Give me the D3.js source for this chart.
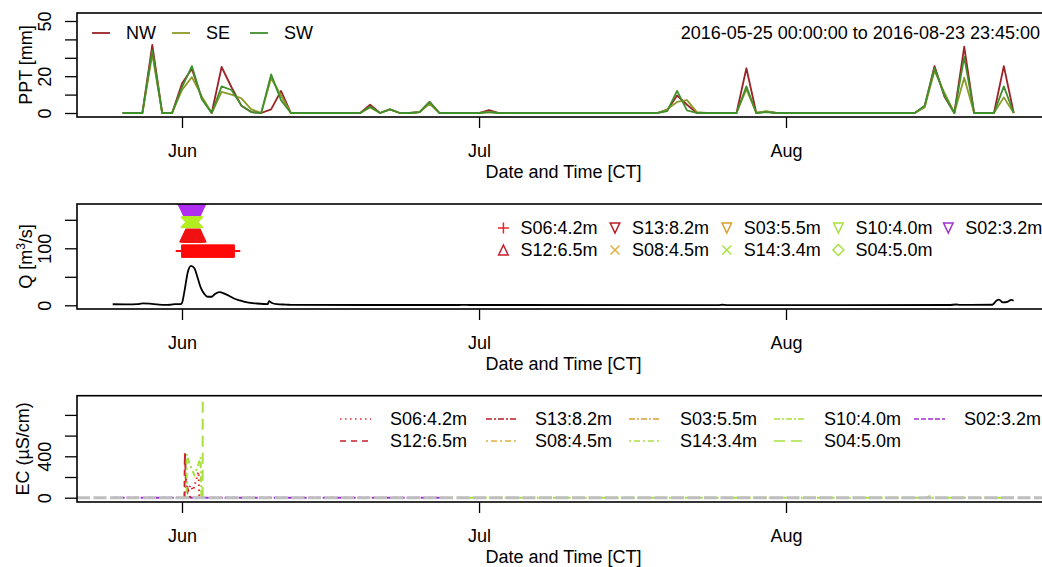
<!DOCTYPE html>
<html>
<head>
<meta charset="utf-8">
<script src="https://cdn.jsdelivr.net/npm/d3@7"></script>
<style>
  body { margin: 0; background: #fff; }
  svg text { font-family: "Liberation Sans", Arial, sans-serif; font-size: 18px; fill: #000; }
</style>
</head>
<body>
<svg id="chart" width="1042" height="567"></svg>
<script>
// ---------- data ----------
const rangeLabel = "2016-05-25 00:00:00 to 2016-08-23 23:45:00";
const monthTicks = ["2016-06-01", "2016-07-01", "2016-08-01"];

// daily precipitation [mm], one value per day starting at pptStart
const pptStart = "2016-05-26";
const pptNames = ["NW", "SE", "SW"];
const pptColors = ["#9b2226", "#8c9a2a", "#3f8f2c"];
const pptNW = [0,0,0,37,0,0,
  16,24,8,0,25,14,4,0.5,0,2,12,0,0,0,0,0,0,0,0,4.5,0,2,0,0,0.5,6,0,0,0,0,
  0,1.5,0,0,0,0,0,0,0,0,0,0,0,0,0,0,0,0,0,1.5,9.5,4.5,0,0,0,0,0,24.3,0,0.8,0,
  0,0,0,0,0,0,0,0,0,0,0,0,0,0,3.5,25.5,9,0,36,0,0,0,25.5,0];
const pptSE = [0,0,0,32,0,0,
  12.5,19.5,9,0,11.5,10,8,2,0,19,9.5,0,0,0,0,0,0,0,0,3,0,2,0,0,0.5,5,0,0,0,0,
  0,0.5,0,0,0,0,0,0,0,0,0,0,0,0,0,0,0,0,0,2,6,7,0.5,0,0,0,0,13,0,1,0,
  0,0,0,0,0,0,0,0,0,0,0,0,0,0,3,23,11,0,19.2,0,0,0,8.5,0];
const pptSW = [0,0,0,34,0,0,
  14,25.5,7.5,0,14.5,12.5,4,0.5,0,21,7,0,0,0,0,0,0,0,0,3.5,0,2,0,0,0.5,6,0,0,0,0,
  0,0.5,0,0,0,0,0,0,0,0,0,0,0,0,0,0,0,0,0,1,12,1.4,0,0,0,0,0,14.5,0,0.5,0,
  0,0,0,0,0,0,0,0,0,0,0,0,0,0,4,24.5,9.5,0,30.5,0,0,0,14.5,0];

// discharge Q [m3/s]
const qSeries = [
  ["2016-05-25 00:00", 1.8], ["2016-05-26 12:00", 1.6], ["2016-05-27 12:00", 2.0],
  ["2016-05-28 00:00", 3.4], ["2016-05-28 18:00", 3.0], ["2016-05-29 12:00", 1.6],
  ["2016-05-30 06:00", 0.6], ["2016-05-30 20:00", 1.0], ["2016-05-31 08:00", 2.2],
  ["2016-05-31 20:00", 2.0], ["2016-06-01 00:00", 4], ["2016-06-01 06:00", 25],
  ["2016-06-01 14:00", 58], ["2016-06-01 22:00", 69], ["2016-06-02 06:00", 65],
  ["2016-06-02 14:00", 48], ["2016-06-02 22:00", 30], ["2016-06-03 06:00", 20],
  ["2016-06-03 14:00", 15], ["2016-06-04 00:00", 15], ["2016-06-04 08:00", 20],
  ["2016-06-04 19:00", 23], ["2016-06-05 08:00", 20], ["2016-06-05 20:00", 16],
  ["2016-06-06 06:00", 12], ["2016-06-06 20:00", 8.5], ["2016-06-07 14:00", 5],
  ["2016-06-08 12:00", 3.2], ["2016-06-09 06:00", 2.3], ["2016-06-09 16:00", 2.2],
  ["2016-06-09 19:00", 7.5], ["2016-06-10 02:00", 4.0], ["2016-06-10 14:00", 2.0],
  ["2016-06-11 12:00", 1.2], ["2016-06-12 06:00", 0.6], ["2016-06-20 00:00", 0.5],
  ["2016-06-29 00:00", 0.5], ["2016-06-29 12:00", 0.9], ["2016-06-30 00:00", 0.5],
  ["2016-07-25 06:00", 0.4], ["2016-07-25 14:00", 1.0], ["2016-07-26 00:00", 0.4],
  ["2016-08-17 12:00", 0.5], ["2016-08-18 04:00", 1.4], ["2016-08-18 14:00", 0.6],
  ["2016-08-21 20:00", 1.0], ["2016-08-22 06:00", 8], ["2016-08-22 12:00", 10],
  ["2016-08-22 22:00", 5], ["2016-08-23 10:00", 6.5], ["2016-08-23 18:00", 9.5],
  ["2016-08-23 23:45", 8]
];

// sensor observation spans drawn as markers at fixed levels on the Q panel
const markerSensors = ["S06", "S12", "S02", "S14"];
const markerLevels  = [95, 122, 166, 146];
const markerFrom    = ["2016-06-01 00:00", "2016-06-01 09:00", "2016-06-01 07:00", "2016-06-01 11:00"];
const markerTo      = ["2016-06-06 06:00", "2016-06-02 20:00", "2016-06-02 17:00", "2016-06-02 13:00"];

// legend entries for the sensor panels (row-major, 5 columns)
const sensorNames = ["S06:4.2m", "S13:8.2m", "S03:5.5m", "S10:4.0m", "S02:3.2m",
                     "S12:6.5m", "S08:4.5m", "S14:3.4m", "S04:5.0m"];
const sensorColors = ["#e8262a", "#b81c24", "#d8a030", "#a8e040", "#a030d0",
                      "#c81e2c", "#e0b040", "#a8e040", "#a8e040"];
const sensorShapes = ["plus", "down", "down", "down", "down", "up", "cross", "cross", "diamond"];
const sensorDash = ["1.5,3.5", "6,2,2,2", "6,2,2,2", "6,2,2,2", "5,2",
                    "6,5", "2,3,6,3", "2,3,6,3", "11,6"];

// electrical conductivity EC [uS/cm]
const ecS02 = [["2016-05-25 00:00", 0], ["2016-06-27 10:00", 0]];
const ecS10 = [["2016-06-28 18:00", 0], ["2016-08-15 06:00", 0], ["2016-08-15 12:00", 14],
               ["2016-08-15 18:00", 0], ["2016-08-23 23:45", 0]];
const ecS12 = [["2016-06-01 06:00", 0], ["2016-06-01 07:00", 430], ["2016-06-01 10:00", 130],
               ["2016-06-01 16:00", 60], ["2016-06-01 20:00", 0]];
const ecS06 = [["2016-06-01 08:00", 0], ["2016-06-01 09:00", 200], ["2016-06-01 14:00", 60],
               ["2016-06-01 20:00", 120], ["2016-06-02 03:00", 70], ["2016-06-02 10:00", 170],
               ["2016-06-02 16:00", 250], ["2016-06-02 18:00", 0]];
const ecS14 = [["2016-06-01 11:00", 0], ["2016-06-01 12:00", 420], ["2016-06-01 18:00", 330],
               ["2016-06-02 06:00", 220], ["2016-06-02 14:00", 300], ["2016-06-02 21:00", 390],
               ["2016-06-02 23:00", 0]];
const ecS04 = [["2016-06-03 02:00", 0], ["2016-06-03 02:10", 930]];
const ecLines = [
  { data: ecS02, idx: 4 }, { data: ecS10, idx: 3 }, { data: ecS12, idx: 5 },
  { data: ecS06, idx: 0 }, { data: ecS14, idx: 7 }, { data: ecS04, idx: 8 }
];

// ---------- layout ----------
const svg = d3.select("#chart");
const parseT = d3.timeParse("%Y-%m-%d %H:%M");
const parseD = d3.timeParse("%Y-%m-%d");
const boxL = 77, boxR = 1050;

const x = d3.scaleTime()
  .domain([parseD(monthTicks[0]), parseD(monthTicks[2])])
  .range([182, 786]);

const panels = [
  { top: 13,    bottom: 117, y: d3.scaleLinear().domain([0, 50]).range([113, 21]),
    ticks: [0, 10, 20, 30, 40, 50], labels: [0, 20, 50], title: "PPT [mm]", titleX: 26 },
  { top: 204,   bottom: 309, y: d3.scaleLinear().domain([0, 150]).range([305.3, 219.8]),
    ticks: [0, 50, 100, 150], labels: [0, 100], title: null, titleX: 26 },
  { top: 395.7, bottom: 502, y: d3.scaleLinear().domain([0, 800]).range([497.7, 414.9]),
    ticks: [0, 200, 400, 600, 800], labels: [0, 400], title: "EC (\u00b5S/cm)", titleX: 23 }
];

const defs = svg.append("defs");
panels.forEach((p, i) => {
  defs.append("clipPath").attr("id", "clip" + i)
    .append("rect").attr("x", boxL).attr("y", p.top)
    .attr("width", boxR - boxL).attr("height", p.bottom - p.top);
});

// axes and titles
panels.forEach((p, i) => {
  const xa = d3.axisBottom(x)
    .tickValues(monthTicks.map(parseD))
    .tickFormat(d3.timeFormat("%b"))
    .tickSizeInner(11).tickSizeOuter(0).tickPadding(16);
  const gx = svg.append("g").attr("transform", `translate(0,${p.bottom})`).call(xa);
  gx.select(".domain").remove();
  gx.selectAll("line").attr("stroke", "#000").attr("stroke-width", 1.3);
  gx.selectAll("text").attr("font-size", null).attr("font-family", null);

  const ya = d3.axisLeft(p.y).tickValues(p.ticks)
    .tickFormat(d => p.labels.includes(d) ? String(d) : "")
    .tickSizeInner(12).tickSizeOuter(0).tickPadding(0);
  const gy = svg.append("g").attr("transform", `translate(${boxL},0)`).call(ya);
  gy.select(".domain").remove();
  gy.selectAll("line").attr("stroke", "#000").attr("stroke-width", 1.3);
  gy.selectAll("text")
    .attr("font-size", null).attr("font-family", null)
    .attr("x", 0).attr("dy", "0.35em").attr("text-anchor", "middle")
    .attr("transform", "translate(-32,0) rotate(-90)");

  svg.append("text")
    .attr("x", (boxL + boxR) / 2).attr("y", p.bottom + 55).attr("dy", "0.35em")
    .attr("text-anchor", "middle").text("Date and Time [CT]");

  const cy = (p.top + p.bottom) / 2;
  const t = svg.append("text")
    .attr("transform", `translate(${p.titleX},${cy}) rotate(-90)`)
    .attr("dy", "0.35em").attr("text-anchor", "middle");
  if (p.title) {
    t.text(p.title);
  } else {
    t.append("tspan").text("Q [m");
    t.append("tspan").attr("baseline-shift", "super").attr("font-size", "12px").text("3");
    t.append("tspan").text("/s]");
  }
});

// ---------- panel 1: precipitation ----------
const p1 = panels[0];
const pptSeries = [pptNW, pptSE, pptSW];
const pptLine = d3.line()
  .x((d, i) => x(d3.timeDay.offset(parseD(pptStart), i)))
  .y(d => p1.y(d));
const g1 = svg.append("g").attr("clip-path", "url(#clip0)");
pptSeries.forEach((s, k) => {
  g1.append("path").datum(s).attr("d", pptLine)
    .attr("fill", "none").attr("stroke", pptColors[k])
    .attr("stroke-width", 1.8).attr("stroke-linejoin", "round");
});
const legX = [92, 172, 250];
pptNames.forEach((n, k) => {
  svg.append("line").attr("x1", legX[k]).attr("x2", legX[k] + 18)
    .attr("y1", 33).attr("y2", 33).attr("stroke", pptColors[k]).attr("stroke-width", 1.8);
  svg.append("text").attr("x", legX[k] + 34).attr("y", 33).attr("dy", "0.35em").text(n);
});
svg.append("text").attr("x", 1040).attr("y", 33).attr("dy", "0.35em")
  .attr("text-anchor", "end").text(rangeLabel);

// ---------- panel 2: discharge ----------
const p2 = panels[1];
const symbolPath = {
  plus:    s => `M${-s},0H${s}M0,${-s}V${s}`,
  cross:   s => `M${-s},${-s}L${s},${s}M${-s},${s}L${s},${-s}`,
  up:      s => `M0,${-s}L${s * 0.95},${s}L${-s * 0.95},${s}Z`,
  down:    s => `M${-s * 0.95},${-s}L${s * 0.95},${-s}L0,${s}Z`,
  diamond: s => `M0,${-s}L${s},0L0,${s}L${-s},0Z`
};
const markerShape = { S06: ["plus", 6.3], S12: ["up", 5.5], S14: ["cross", 5.5], S02: ["down", 7] };
const markerColor = { S06: "#ff0a0a", S12: "#f01414", S14: "#b4ee22", S02: "#b030f0" };
const g2 = svg.append("g").attr("clip-path", "url(#clip1)");
markerSensors.forEach((sname, k) => {
  const [shape, size] = markerShape[sname];
  const times = d3.timeHour.every(1).range(parseT(markerFrom[k]), d3.timeMinute.offset(parseT(markerTo[k]), 1));
  g2.selectAll(null).data(times).join("path")
    .attr("transform", d => `translate(${x(d)},${p2.y(markerLevels[k])})`)
    .attr("d", symbolPath[shape](size))
    .attr("fill", "none")
    .attr("stroke", markerColor[sname])
    .attr("stroke-width", 1.8);
});
const qLine = d3.line().x(d => x(parseT(d[0]))).y(d => p2.y(d[1])).curve(d3.curveMonotoneX);
g2.append("path").datum(qSeries).attr("d", qLine)
  .attr("fill", "none").attr("stroke", "#000").attr("stroke-width", 1.8);

const qLegSym = [503.4, 615, 726.8, 838.4, 948.3];
const qLegRows = [228, 250];
sensorNames.forEach((n, i) => {
  const col = i % 5, row = Math.floor(i / 5);
  const shape = sensorShapes[i];
  const sz = shape === "plus" ? 5.5 : shape === "cross" ? 4.5 : shape === "diamond" ? 5.5 : 5;
  svg.append("path")
    .attr("transform", `translate(${qLegSym[col]},${qLegRows[row]})`)
    .attr("d", symbolPath[shape](sz))
    .attr("fill", "none").attr("stroke", sensorColors[i]).attr("stroke-width", 1.5);
  svg.append("text").attr("x", qLegSym[col] + 17).attr("y", qLegRows[row])
    .attr("dy", "0.35em").text(n);
});

// ---------- panel 3: electrical conductivity ----------
const p3 = panels[2];
const g3 = svg.append("g").attr("clip-path", "url(#clip2)");
const ecLine = d3.line().x(d => x(parseT(d[0]))).y(d => p3.y(d[1]));
ecLines.forEach(s => {
  g3.append("path").datum(s.data).attr("d", ecLine)
    .attr("fill", "none").attr("stroke", sensorColors[s.idx])
    .attr("stroke-width", 2).attr("stroke-dasharray", sensorDash[s.idx]);
});
// zero reference line
g3.append("line")
  .attr("x1", boxL).attr("x2", boxR)
  .attr("y1", p3.y(0)).attr("y2", p3.y(0))
  .attr("stroke", "#bebebe").attr("stroke-width", 3).attr("stroke-dasharray", "13,3.5");

const ecLegLine = [340, 486, 629, 774, 914];
const ecLegText = [390, 535, 680, 824, 964];
const ecLegRows = [419, 441];
sensorNames.forEach((n, i) => {
  const col = i % 5, row = Math.floor(i / 5);
  svg.append("line")
    .attr("x1", ecLegLine[col]).attr("x2", ecLegLine[col] + 31)
    .attr("y1", ecLegRows[row]).attr("y2", ecLegRows[row])
    .attr("stroke", sensorColors[i]).attr("stroke-width", 1.6)
    .attr("stroke-dasharray", sensorDash[i]);
  svg.append("text").attr("x", ecLegText[col]).attr("y", ecLegRows[row])
    .attr("dy", "0.35em").text(n);
});

// plot frames on top
panels.forEach(p => {
  svg.append("rect").attr("x", boxL).attr("y", p.top)
    .attr("width", boxR - boxL).attr("height", p.bottom - p.top)
    .attr("fill", "none").attr("stroke", "#000").attr("stroke-width", 1.6);
});
</script>
</body>
</html>
